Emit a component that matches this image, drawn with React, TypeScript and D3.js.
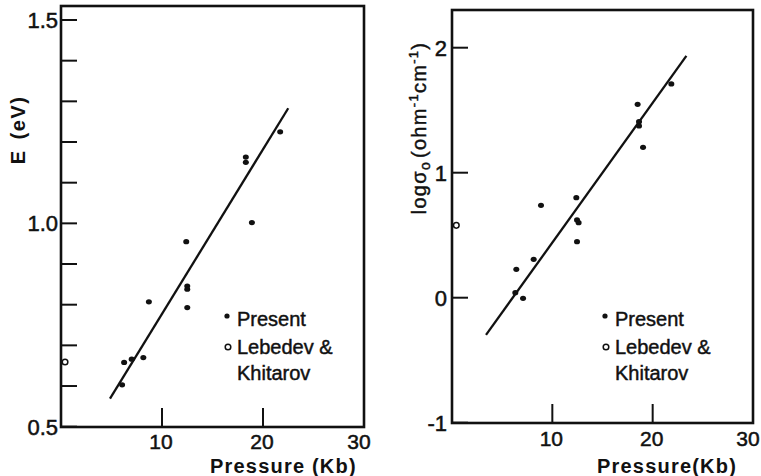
import React from 'react';
import * as d3 from 'd3';

const W = 761;
const H = 476;
const FONT = '"Liberation Sans", Arial, sans-serif';

// Shared x axis (pressure, Kb)
const pressureTicks = [10, 20, 30];
const pressureTickLabels = ['10', '20', '30'];

// Left panel: activation energy E (eV)
const ePresentPressure = [21.7, 18.3, 18.3, 18.9, 12.4, 12.5, 12.5, 12.5, 8.7, 8.15, 7.0, 6.25, 6.05];
const ePresentValue = [1.225, 1.163, 1.15, 1.002, 0.955, 0.846, 0.838, 0.793, 0.807, 0.67, 0.666, 0.658, 0.603];
const eLebedevPressure = [0.4];
const eLebedevValue = [0.659];
const eFitPressure = [4.85, 22.5];
const eFitValue = [0.569, 1.283];
const eTicks = [0.5, 0.6, 0.7, 0.8, 0.9, 1.0, 1.1, 1.2, 1.3, 1.4, 1.5];
const eLabelValues = [0.5, 1.0, 1.5];
const eLabels = ['0.5', '1.0', '1.5'];

// Right panel: log sigma0
const sPresentPressure = [21.86, 18.5, 18.64, 18.64, 19.04, 12.39, 8.87, 12.46, 12.62, 12.46, 8.14, 6.41, 6.31, 7.08];
const sPresentValue = [1.71, 1.547, 1.408, 1.374, 1.203, 0.8, 0.739, 0.622, 0.6, 0.448, 0.307, 0.227, 0.04, -0.005];
const sLebedevPressure = [0.43];
const sLebedevValue = [0.579];
const sFitPressure = [3.39, 23.36];
const sFitValue = [-0.298, 1.934];
const sTicks = [-1, 0, 1, 2];
const sLabels = ['-1', '0', '1', '2'];

const legendLabels = ['Present', 'Lebedev &', 'Khitarov'];

type PanelProps = {
  box: { left: number; right: number; top: number; bottom: number };
  yDomain: [number, number];
  yRange: [number, number];
  yTicks: number[];
  yLabelValues: number[];
  yLabels: string[];
  presentP: number[];
  presentV: number[];
  lebP: number[];
  lebV: number[];
  fitP: number[];
  fitV: number[];
  xLabelY: number;
  yLabelEnd: number;
  xTitle: string;
  xTitleX: number;
  legendX: number;
  yTitle: React.ReactNode;
};

function Panel(p: PanelProps) {
  const x = d3.scaleLinear().domain([0, 30]).range([p.box.left, p.box.right]);
  const y = d3.scaleLinear().domain(p.yDomain).range(p.yRange);
  const line = d3
    .line<number>()
    .x((_, i) => x(p.fitP[i]))
    .y((d) => y(d));
  const { left, right, top, bottom } = p.box;
  const tickLen = 16;
  const xTickLen = 19;
  return (
    <g>
      <rect x={left} y={top} width={right - left} height={bottom - top} fill="none" stroke="#111" strokeWidth={2.6} />
      {p.yTicks.map((t) => (
        <line key={'yt' + t} x1={left} x2={left + tickLen} y1={y(t)} y2={y(t)} stroke="#111" strokeWidth={2} />
      ))}
      {pressureTicks.map((t) => (
        <line key={'xt' + t} x1={x(t)} x2={x(t)} y1={bottom} y2={bottom - xTickLen} stroke="#111" strokeWidth={2} />
      ))}
      {p.yLabelValues.map((v, i) => (
        <text
          key={'yl' + v}
          x={p.yLabelEnd}
          y={y(v)}
          dy="0.36em"
          textAnchor="end"
          fontSize={22}
          fontFamily={FONT}
          fill="#111"
          stroke="#111"
          strokeWidth={0.5}
        >
          {p.yLabels[i]}
        </text>
      ))}
      {pressureTicks.map((t, i) => (
        <text
          key={'xl' + t}
          x={x(t) - (i === 2 ? 5 : 1)}
          y={p.xLabelY}
          textAnchor="middle"
          fontSize={21}
          fontFamily={FONT}
          fill="#111"
          stroke="#111"
          strokeWidth={0.5}
        >
          {pressureTickLabels[i]}
        </text>
      ))}
      <text
        x={p.xTitleX}
        y={473}
        fontSize={20}
        fontWeight="bold"
        letterSpacing={1.2}
        fontFamily={FONT}
        fill="#111"
      >
        {p.xTitle}
      </text>
      {p.yTitle}
      <path d={line(p.fitV) || ''} fill="none" stroke="#111" strokeWidth={2.3} />
      {p.presentP.map((pp, i) => (
        <ellipse key={'pt' + i} cx={x(pp)} cy={y(p.presentV[i])} rx={3} ry={2.6} fill="#111" />
      ))}
      {p.lebP.map((pp, i) => (
        <circle key={'lb' + i} cx={x(pp)} cy={y(p.lebV[i])} r={2.8} fill="none" stroke="#111" strokeWidth={1.5} />
      ))}
      <g fontFamily={FONT} fontSize={20} fill="#111" stroke="#111" strokeWidth={0.45}>
        <circle cx={p.legendX - 10} cy={316} r={2.6} fill="#111" stroke="none" />
        <text x={p.legendX} y={326}>{legendLabels[0]}</text>
        <circle cx={p.legendX - 9} cy={347} r={2.8} fill="none" stroke="#111" strokeWidth={1.5} />
        <text x={p.legendX} y={354}>{legendLabels[1]}</text>
        <text x={p.legendX} y={380}>{legendLabels[2]}</text>
      </g>
    </g>
  );
}

export default function App() {
  const leftYTitle = (
    <text
      transform="translate(25,130) rotate(-90)"
      textAnchor="middle"
      fontSize={20}
      fontWeight="bold"
      fontFamily={FONT}
      fill="#111"
      letterSpacing={1.5}
    >
      <tspan>E</tspan>
      <tspan dx={10}>(eV)</tspan>
    </text>
  );
  const rightYTitle = (
    <text
      transform="translate(426,128) rotate(-90)"
      textAnchor="middle"
      fontSize={20}
      fontFamily={FONT}
      fill="#111"
      stroke="#111"
      strokeWidth={0.45}
      letterSpacing={1.3}
    >
      <tspan>logσ</tspan>
      <tspan fontSize={14} dy={4}>o</tspan>
      <tspan dy={-4} dx={3}>(ohm</tspan>
      <tspan fontSize={13} dy={-8}>-1</tspan>
      <tspan dy={8}>cm</tspan>
      <tspan fontSize={13} dy={-8}>-1</tspan>
      <tspan dy={8}>)</tspan>
    </text>
  );
  return (
    <svg width={W} height={H} style={{ position: 'absolute', left: 0, top: 0, background: '#fff' }}>
      <rect x={0} y={0} width={W} height={H} fill="#fff" />
      <Panel
        box={{ left: 61, right: 364, top: 6, bottom: 427 }}
        yDomain={[0.5, 1.5]}
        yRange={[426.7, 20]}
        yTicks={eTicks}
        yLabelValues={eLabelValues}
        yLabels={eLabels}
        presentP={ePresentPressure}
        presentV={ePresentValue}
        lebP={eLebedevPressure}
        lebV={eLebedevValue}
        fitP={eFitPressure}
        fitV={eFitValue}
        xLabelY={449}
        yLabelEnd={58}
        xTitle="Pressure (Kb)"
        xTitleX={210}
        legendX={237}
        yTitle={leftYTitle}
      />
      <Panel
        box={{ left: 452, right: 753, top: 10, bottom: 423 }}
        yDomain={[-1, 2]}
        yRange={[422.7, 47.7]}
        yTicks={sTicks}
        yLabelValues={sTicks}
        yLabels={sLabels}
        presentP={sPresentPressure}
        presentV={sPresentValue}
        lebP={sLebedevPressure}
        lebV={sLebedevValue}
        fitP={sFitPressure}
        fitV={sFitValue}
        xLabelY={446}
        yLabelEnd={447}
        xTitle="Pressure(Kb)"
        xTitleX={597}
        legendX={615}
        yTitle={rightYTitle}
      />
    </svg>
  );
}
